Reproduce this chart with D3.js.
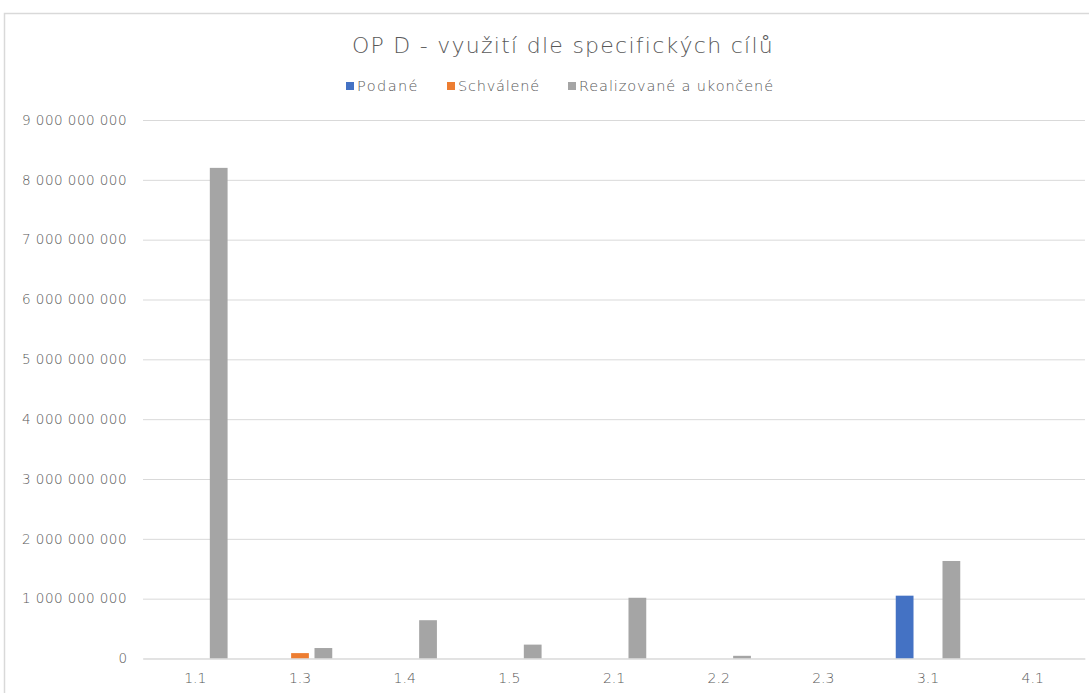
<!DOCTYPE html>
<html>
<head>
<meta charset="utf-8">
<script src="https://cdn.jsdelivr.net/npm/d3@7"></script>
<style>
  body { margin: 0; background: #fff; }
  svg text { font-family: "Century Gothic", "DejaVu Sans", sans-serif; font-weight: 200; fill: #595959; }
</style>
</head>
<body>
<svg id="chart" width="1089" height="693"></svg>
<script>
var categories = ['1.1', '1.3', '1.4', '1.5', '2.1', '2.2', '2.3', '3.1', '4.1'];
var seriesNames = ['Podané', 'Schválené', 'Realizované a ukončené'];
var podane = [0, 0, 0, 0, 0, 0, 0, 1050000000, 0];
var schvalene = [0, 90000000, 0, 0, 0, 0, 0, 0, 0];
var realizovane = [8200000000, 175000000, 640000000, 232000000, 1015000000, 45000000, 0, 1630000000, 0];
var yTicks = [0, 1e9, 2e9, 3e9, 4e9, 5e9, 6e9, 7e9, 8e9, 9e9];
var colors = ['#4472C4', '#ED7D31', '#A5A5A5'];

var allSeries = [podane, schvalene, realizovane];

var svg = d3.select('#chart');

// stretch letter spacing so a text gets the width it has in the original
function fitWidth(sel, target) {
  sel.each(function() {
    var n = this.textContent.length;
    var w = this.getComputedTextLength();
    if (n > 1) d3.select(this).style('letter-spacing', ((target - w) / n) + 'px');
  });
}

// chart area border (right and bottom edges are cut off in the picture)
svg.append('rect')
  .attr('x', 4.5).attr('y', 13.5)
  .attr('width', 1200).attr('height', 800)
  .attr('fill', 'none')
  .attr('stroke', '#d9d9d9')
  .attr('stroke-width', 1.5);

var MARGINS = {left: 143, right: 1085, top: 120, bottom: 658.5};

var x0 = d3.scaleBand()
  .domain(categories)
  .range([MARGINS.left, MARGINS.right])
  .padding(0);

var clusterWidth = 64.5;
var x1 = d3.scaleBand()
  .domain(seriesNames)
  .range([0, clusterWidth])
  .paddingInner(0.24)
  .paddingOuter(0);

var y = d3.scaleLinear()
  .domain([0, 9e9])
  .range([MARGINS.bottom, MARGINS.top]);

var fmt = function(v) { return d3.format(',')(v).replace(/,/g, ' '); };

// gridlines
var yAxis = d3.axisLeft(y)
  .tickValues(yTicks)
  .tickSize(-(MARGINS.right - MARGINS.left))
  .tickPadding(16)
  .tickFormat(fmt);

var gy = svg.append('g')
  .attr('transform', 'translate(' + MARGINS.left + ',0)')
  .call(yAxis);
gy.select('.domain').remove();
gy.selectAll('.tick line').attr('stroke', '#d9d9d9').attr('stroke-width', 1);
gy.selectAll('.tick text')
  .style('font-size', '13.5px')
  .style('font-family', null)
  .attr('fill', '#595959');
gy.selectAll('.tick text').each(function() {
  var t = d3.select(this);
  fitWidth(t, this.textContent.length * 105 / 13);
});

// bars
allSeries.forEach(function(values, si) {
  var data = categories.map(function(c, i) { return {cat: c, v: values[i]}; })
    .filter(function(d) { return d.v > 0; });
  svg.append('g').selectAll('rect')
    .data(data)
    .enter()
    .append('rect')
    .attr('x', function(d) {
      return x0(d.cat) + (x0.bandwidth() - clusterWidth) / 2 + x1(seriesNames[si]);
    })
    .attr('y', function(d) { return y(d.v); })
    .attr('width', x1.bandwidth())
    .attr('height', function(d) { return MARGINS.bottom - y(d.v); })
    .attr('fill', colors[si]);
});

// x axis
var xAxis = d3.axisBottom(x0).tickSize(0).tickPadding(15);
var gx = svg.append('g')
  .attr('transform', 'translate(0,' + MARGINS.bottom + ')')
  .call(xAxis);
gx.select('.domain').attr('stroke', '#d9d9d9');
gx.selectAll('.tick text')
  .style('font-size', '14px')
  .attr('fill', '#595959');

// title
var title = svg.append('text')
  .attr('x', 563)
  .attr('y', 53)
  .attr('text-anchor', 'middle')
  .style('font-size', '22px')
  .text('OP D - využití dle specifických cílů');
fitWidth(title, 422);

// legend
var legendX = [346, 447, 568];
var legendW = [62, 82, 195];
var legend = svg.append('g');
seriesNames.forEach(function(name, i) {
  legend.append('rect')
    .attr('x', legendX[i]).attr('y', 82)
    .attr('width', 8).attr('height', 8)
    .attr('fill', colors[i]);
  var t = legend.append('text')
    .attr('x', legendX[i] + 11)
    .attr('y', 91)
    .style('font-size', '14.5px')
    .text(name);
  fitWidth(t, legendW[i]);
});
</script>
</body>
</html>
